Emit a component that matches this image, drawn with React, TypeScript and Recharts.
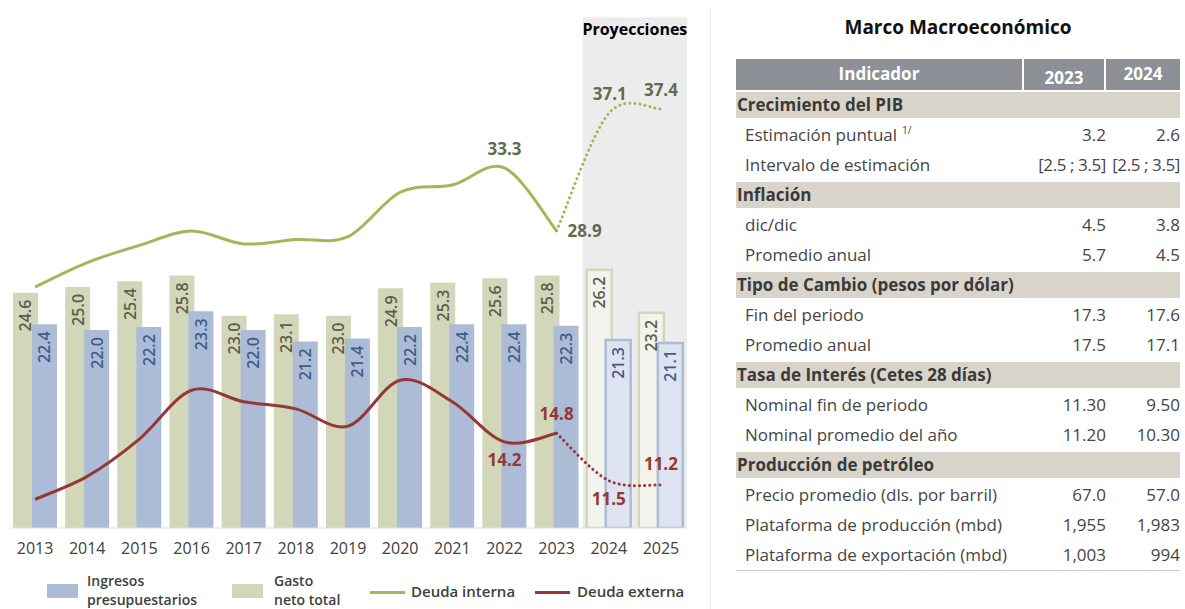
import React from "react";
import { ComposedChart, Bar, Line, XAxis, YAxis, ReferenceArea, Cell } from "recharts";

const years = ["2013", "2014", "2015", "2016", "2017", "2018", "2019", "2020", "2021", "2022", "2023", "2024", "2025"];
const gasto = [24.6, 25.0, 25.4, 25.8, 23.0, 23.1, 23.0, 24.9, 25.3, 25.6, 25.8, 26.2, 23.2];
const ingresos = [22.4, 22.0, 22.2, 23.3, 22.0, 21.2, 21.4, 22.2, 22.4, 22.4, 22.3, 21.3, 21.1];
const deudaInterna = [25.0, 26.7, 27.9, 28.9, 28.0, 28.3, 28.5, 31.6, 32.1, 33.3, 28.9, null, null];
const deudaInternaProy = [null, null, null, null, null, null, null, null, null, null, 28.9, 37.1, 37.4];
const deudaExterna = [10.2, 11.8, 14.4, 17.8, 17.0, 16.5, 15.3, 18.5, 17.0, 14.2, 14.8, null, null];
const deudaExternaProy = [null, null, null, null, null, null, null, null, null, null, 14.8, 11.5, 11.2];
const projected = [false, false, false, false, false, false, false, false, false, false, false, true, true];

// which points carry a value label, and where (offset from the point)
const internaLabels: Record<number, [number, number]> = { 9: [0, -19], 10: [28, 0] };
const internaProyLabels: Record<number, [number, number]> = { 11: [1, -20], 12: [0, -20] };
const externaLabels: Record<number, [number, number]> = { 9: [0, 18], 10: [0, -20] };
const externaProyLabels: Record<number, [number, number]> = { 11: [0, 18], 12: [0, -21] };

const tableTitle = "Marco Macroeconómico";
const tableHeader = ["Indicador", "2023", "2024"];
const tableRows: { label: string; section?: boolean; sup?: string; a?: string; b?: string }[] = [
  { label: "Crecimiento del PIB", section: true },
  { label: "Estimación puntual", sup: "1/", a: "3.2", b: "2.6" },
  { label: "Intervalo de estimación", a: "[2.5 ; 3.5]", b: "[2.5 ; 3.5]" },
  { label: "Inflación", section: true },
  { label: "dic/dic", a: "4.5", b: "3.8" },
  { label: "Promedio anual", a: "5.7", b: "4.5" },
  { label: "Tipo de Cambio (pesos por dólar)", section: true },
  { label: "Fin del periodo", a: "17.3", b: "17.6" },
  { label: "Promedio anual", a: "17.5", b: "17.1" },
  { label: "Tasa de Interés (Cetes 28 días)", section: true },
  { label: "Nominal fin de periodo", a: "11.30", b: "9.50" },
  { label: "Nominal promedio del año", a: "11.20", b: "10.30" },
  { label: "Producción de petróleo", section: true },
  { label: "Precio promedio (dls. por barril)", a: "67.0", b: "57.0" },
  { label: "Plataforma de producción (mbd)", a: "1,955", b: "1,983" },
  { label: "Plataforma de exportación (mbd)", a: "1,003", b: "994" },
];

const data = years.map((year, i) => ({
  year,
  gasto: gasto[i],
  ingresos: ingresos[i],
  interna: deudaInterna[i],
  internaProy: deudaInternaProy[i],
  externa: deudaExterna[i],
  externaProy: deudaExternaProy[i],
}));

const GREEN_BAR = "#d3d7b9";
const BLUE_BAR = "#adbcd6";
const GREEN_LINE = "#9bbb59";
const RED_LINE = "#953735";
const FONT = "'Open Sans', sans-serif";

// Catmull-Rom style smoothing, like the office "smoothed line"
function smoothCurve(context: any) {
  let pts: number[][] = [];
  return {
    areaStart() {},
    areaEnd() {},
    lineStart() {
      pts = [];
    },
    lineEnd() {
      if (!pts.length) return;
      context.moveTo(pts[0][0], pts[0][1]);
      for (let i = 0; i < pts.length - 1; i++) {
        const p0 = pts[i - 1] || pts[i];
        const p1 = pts[i];
        const p2 = pts[i + 1];
        const p3 = pts[i + 2] || p2;
        context.bezierCurveTo(
          p1[0] + (p2[0] - p0[0]) / 6,
          p1[1] + (p2[1] - p0[1]) / 6,
          p2[0] - (p3[0] - p1[0]) / 6,
          p2[1] - (p3[1] - p1[1]) / 6,
          p2[0],
          p2[1]
        );
      }
    },
    point(x: number, y: number) {
      pts.push([+x, +y]);
    },
  };
}

const barLabel = (color: string) => (props: any) => {
  const { x, y, width, value } = props;
  if (value == null) return null;
  const cx = x + width / 2;
  const ty = y + 7;
  return (
    <text
      x={cx}
      y={ty}
      transform={`rotate(-90 ${cx} ${ty})`}
      textAnchor="end"
      dominantBaseline="central"
      fill={color}
      fontSize={16}
      fontWeight={600}
      fontFamily={FONT}
    >
      {Number(value).toFixed(1)}
    </text>
  );
};

const lineLabel = (color: string, spots: Record<number, [number, number]>) => (props: any) => {
  const { x, y, value, index } = props;
  const spot = spots[index];
  if (!spot || value == null) return null;
  return (
    <text
      key={`l-${index}`}
      x={x + spot[0]}
      y={y + spot[1]}
      textAnchor="middle"
      dominantBaseline="central"
      fill={color}
      fontSize={17}
      fontWeight={700}
      fontFamily={FONT}
    >
      {Number(value).toFixed(1)}
    </text>
  );
};

function Legend() {
  const txt: React.CSSProperties = { position: "absolute", fontSize: 14, fontWeight: 600, color: "#404040", lineHeight: "19px", height: 19, whiteSpace: "nowrap" };
  return (
    <>
      <div style={{ position: "absolute", left: 47, top: 584, width: 31, height: 14, background: BLUE_BAR }} />
      <div style={{ ...txt, left: 87, top: 571 }}>Ingresos</div>
      <div style={{ ...txt, left: 87, top: 590 }}>presupuestarios</div>
      <div style={{ position: "absolute", left: 232, top: 584, width: 31, height: 14, background: GREEN_BAR }} />
      <div style={{ ...txt, left: 274, top: 571 }}>Gasto</div>
      <div style={{ ...txt, left: 274, top: 590 }}>neto total</div>
      <div style={{ position: "absolute", left: 370, top: 591, width: 35, height: 3, background: GREEN_LINE }} />
      <div style={{ ...txt, left: 411, top: 582, fontSize: 15 }}>Deuda interna</div>
      <div style={{ position: "absolute", left: 535, top: 591, width: 35, height: 3, background: RED_LINE }} />
      <div style={{ ...txt, left: 577, top: 582, fontSize: 15 }}>Deuda externa</div>
    </>
  );
}

function MacroTable() {
  const colW = [288, 82, 74];
  const valStyle = (v?: string): React.CSSProperties => ({
    textAlign: "right",
    whiteSpace: "nowrap",
    letterSpacing: v && v.startsWith("[") ? -0.4 : 0,
  });
  return (
    <>
      <div style={{ position: "absolute", left: 736, top: 14, width: 444, textAlign: "center", fontSize: 19, fontWeight: 700, color: "#111" }}>
        {tableTitle}
      </div>
      <div style={{ position: "absolute", left: 736, top: 59, width: 444 }}>
        <div style={{ display: "flex", height: 31 }}>
          {tableHeader.map((h, i) => (
            <div
              key={h}
              style={{
                width: colW[i] - (i < 2 ? 2 : 0),
                marginRight: i < 2 ? 2 : 0,
                background: "#8d9097",
                color: "#fff",
                fontWeight: 700,
                fontSize: 17,
                textAlign: "center",
                height: 31,
                lineHeight: i === 1 ? "25px" : "29px",
                paddingTop: i === 1 ? 6 : 0,
                boxSizing: "border-box",
              }}
            >
              {h}
            </div>
          ))}
        </div>
        {tableRows.map((r, i) =>
          r.section ? (
            <div key={i} style={{ height: 30, paddingTop: 2, boxSizing: "border-box" }}>
              <div style={{ height: 26, background: "#d9d4ca", fontWeight: 700, fontSize: 17, color: "#3a3a3a", lineHeight: "26px", paddingLeft: 1, whiteSpace: "nowrap" }}>
                {r.label}
              </div>
            </div>
          ) : (
            <div key={i} style={{ height: 30, display: "flex", fontSize: 17, color: "#454545", lineHeight: "30px", whiteSpace: "nowrap", overflow: "visible" }}>
              <div style={{ width: colW[0], paddingLeft: 9, boxSizing: "border-box" }}>
                {r.label}
                {r.sup && (
                  <span style={{ fontSize: 10, marginLeft: 5, position: "relative", top: -7, lineHeight: 0 }}>{r.sup}</span>
                )}
              </div>
              <div style={{ width: colW[1], ...valStyle(r.a), display: "flex", justifyContent: "flex-end" }}>
                <span>{r.a}</span>
              </div>
              <div style={{ width: colW[2], ...valStyle(r.b), display: "flex", justifyContent: "flex-end" }}>
                <span>{r.b}</span>
              </div>
            </div>
          )
        )}
        <div style={{ height: 1, background: "#c8c8c8" }} />
      </div>
    </>
  );
}

export default function App() {
  return (
    <div style={{ position: "absolute", left: 0, top: 0, width: 1185, height: 609, background: "#fff", fontFamily: FONT, overflow: "hidden" }}>
      <div style={{ position: "absolute", left: 0, top: 0 }}>
        <ComposedChart
          width={700}
          height={609}
          data={data}
          margin={{ top: 14.3, right: 13, bottom: 51, left: 9 }}
          barSize={25}
          barGap={-6}
        >
          <ReferenceArea
            x1="2024"
            x2="2025"
            y1={8.2}
            y2={43.8}
            fill="#ececec"
            fillOpacity={1}
            stroke="none"
            ifOverflow="visible"
            label={{ value: "Proyecciones", position: "insideTop", fill: "#000", fontSize: 16, fontWeight: 700, fontFamily: FONT, offset: 6 }}
          />
          <XAxis
            dataKey="year"
            height={30}
            tickLine={false}
            tickMargin={9}
            axisLine={{ stroke: "#dddddd" }}
            tick={{ fill: "#404040", fontSize: 16, fontFamily: FONT }}
            interval={0}
          />
          <YAxis hide domain={[8.2, 44]} allowDataOverflow />
          <Bar dataKey="gasto" fill={GREEN_BAR} isAnimationActive={false} label={barLabel("#5b5e4b")}>
            {data.map((_, i) => (
              <Cell
                key={i}
                fill={projected[i] ? "#f2f3ec" : GREEN_BAR}
                stroke={projected[i] ? GREEN_BAR : "none"}
                strokeWidth={projected[i] ? 2.5 : 0}
              />
            ))}
          </Bar>
          <Bar dataKey="ingresos" fill={BLUE_BAR} isAnimationActive={false} label={barLabel("#3f5d8c")}>
            {data.map((_, i) => (
              <Cell
                key={i}
                fill={projected[i] ? "#dde4f0" : BLUE_BAR}
                stroke={projected[i] ? BLUE_BAR : "none"}
                strokeWidth={projected[i] ? 2.5 : 0}
              />
            ))}
          </Bar>
          <Line dataKey="interna" type={smoothCurve as any} stroke={GREEN_LINE} strokeWidth={3} dot={false} isAnimationActive={false} label={lineLabel("#656a4c", internaLabels)} />
          <Line dataKey="internaProy" type={smoothCurve as any} stroke={GREEN_LINE} strokeWidth={3} strokeDasharray="0.1 5" strokeLinecap="round" dot={false} isAnimationActive={false} label={lineLabel("#656a4c", internaProyLabels)} />
          <Line dataKey="externa" type={smoothCurve as any} stroke={RED_LINE} strokeWidth={3} dot={false} isAnimationActive={false} label={lineLabel(RED_LINE, externaLabels)} />
          <Line dataKey="externaProy" type={smoothCurve as any} stroke={RED_LINE} strokeWidth={3} strokeDasharray="0.1 5" strokeLinecap="round" dot={false} isAnimationActive={false} label={lineLabel(RED_LINE, externaProyLabels)} />
        </ComposedChart>
      </div>
      <Legend />
      <div style={{ position: "absolute", left: 710, top: 8, width: 1, height: 601, background: "#ececec" }} />
      <MacroTable />
    </div>
  );
}
